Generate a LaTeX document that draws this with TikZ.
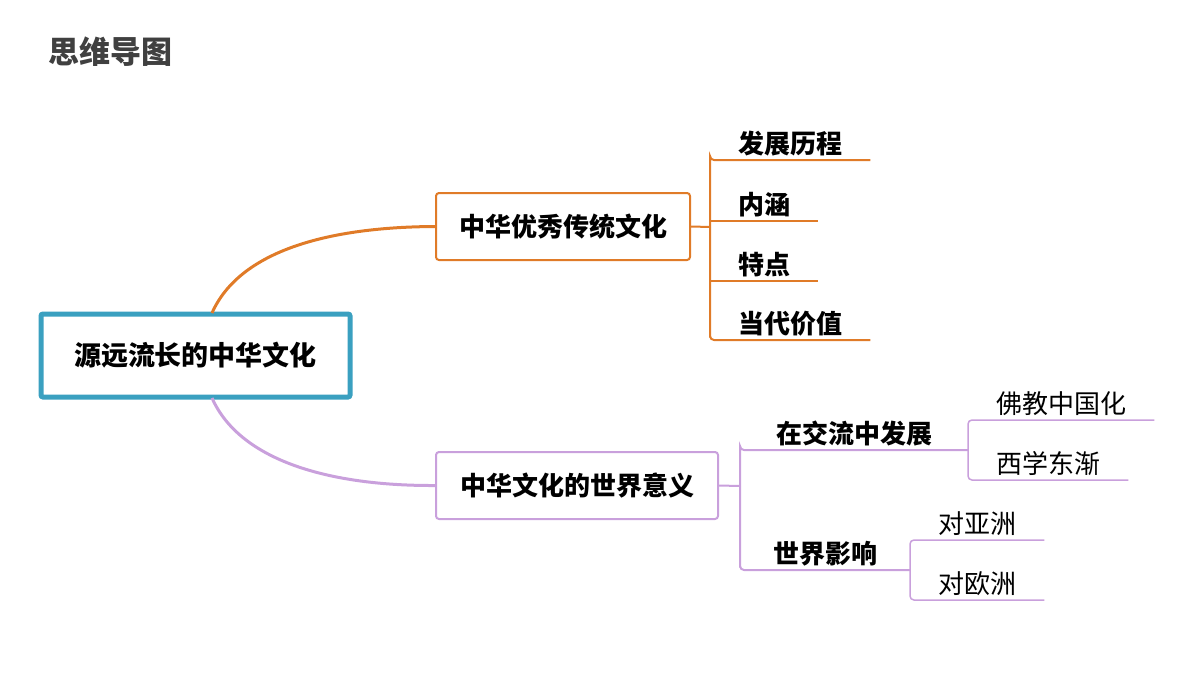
\documentclass[tikz,border=0pt]{standalone}
\usepackage{fontspec}
\setmainfont{Noto Sans CJK SC}
\newfontfamily\cjkb{Noto Sans CJK SC}[BoldFont={* Bold}]
\begin{document}
\begin{tikzpicture}[x=1pt,y=-1pt,
  orc/.style={draw=orange!80!brown, line width=2pt, rounded corners=4pt},
  pur/.style={draw=violet!40!pink!70!white, line width=2pt, rounded corners=4pt},
  leafb/.style={anchor=south west, align=left, inner xsep=28pt, inner ysep=4pt, text height=0.8em, text depth=0.2em, font=\fontsize{26}{28}\selectfont\bfseries},
  leafr/.style={leafb, font=\fontsize{26}{28}\selectfont}]
\definecolor{orc}{HTML}{E07B28}
\definecolor{pur}{HTML}{C9A0DC}
\definecolor{blu}{HTML}{3AA0C0}
\tikzset{orc/.append style={draw=orc}, pur/.append style={draw=pur}}
\useasboundingbox (0,0) rectangle (1200,675);
\node[anchor=west, font=\fontsize{31}{33}\selectfont\bfseries, text=black!75] (title) at (45,52) {思维导图};
% central
\node[draw=blu, line width=5pt, rounded corners=2pt, minimum width=309pt, minimum height=83pt, font=\fontsize{27}{29}\selectfont\bfseries] (root) at (195.5,355.5) {源远流长的中华文化};
\node[draw=orc, line width=2pt, rounded corners=3pt, minimum width=254pt, minimum height=67pt, font=\fontsize{26}{28}\selectfont\bfseries] (a) at (563,226.5) {中华优秀传统文化};
\node[draw=pur, line width=2pt, rounded corners=3pt, minimum width=282pt, minimum height=67pt, font=\fontsize{26}{28}\selectfont\bfseries] (b) at (577,485.5) {中华文化的世界意义};
\draw[orc, line width=3pt] (212,313) .. controls (240,250) and (330,227) .. (a.west);
\draw[pur, line width=3pt] (212,398) .. controls (240,461) and (330,486) .. (b.west);
% orange leaves
\coordinate (ab) at (710,227);
\node[leafb, minimum width=150pt] (a1) at (710,160) {发展历程};
\node[leafb, minimum width=95pt] (a2) at (710,221) {内涵};
\node[leafb, minimum width=95pt] (a3) at (710,281) {特点};
\node[leafb, minimum width=150pt] (a4) at (710,340) {当代价值};
\draw[orc] (a.east) -- (ab);
\draw[orc] (ab) |- (a1.south west) -- (a1.south east);
\draw[orc] (ab) |- (a4.south west) -- (a4.south east);
\draw[orc] (a2.south west) -- (a2.south east);
\draw[orc] (a3.south west) -- (a3.south east);
% purple
\coordinate (bb) at (740,486);
\node[leafb, minimum width=228pt] (b1) at (740,450) {在交流中发展};
\node[leafb, minimum width=170pt] (b2) at (740,570) {世界影响};
\draw[pur] (b.east) -- (bb);
\draw[pur] (bb) |- (b1.south west) -- (b1.south east);
\draw[pur] (bb) |- (b2.south west) -- (b2.south east);
\node[leafr, minimum width=180pt] (c1) at (968,420) {佛教中国化};
\node[leafr, minimum width=152pt] (c2) at (968,480) {西学东渐};
\draw[pur, line width=1.5pt] (c1.south east) -- (c1.south west) -- (c2.south west) -- (c2.south east);
\node[leafr, minimum width=124pt] (d1) at (910,540) {对亚洲};
\node[leafr, minimum width=124pt] (d2) at (910,600) {对欧洲};
\draw[pur, line width=1.5pt] (d1.south east) -- (d1.south west) -- (d2.south west) -- (d2.south east);
\end{tikzpicture}
\end{document}
